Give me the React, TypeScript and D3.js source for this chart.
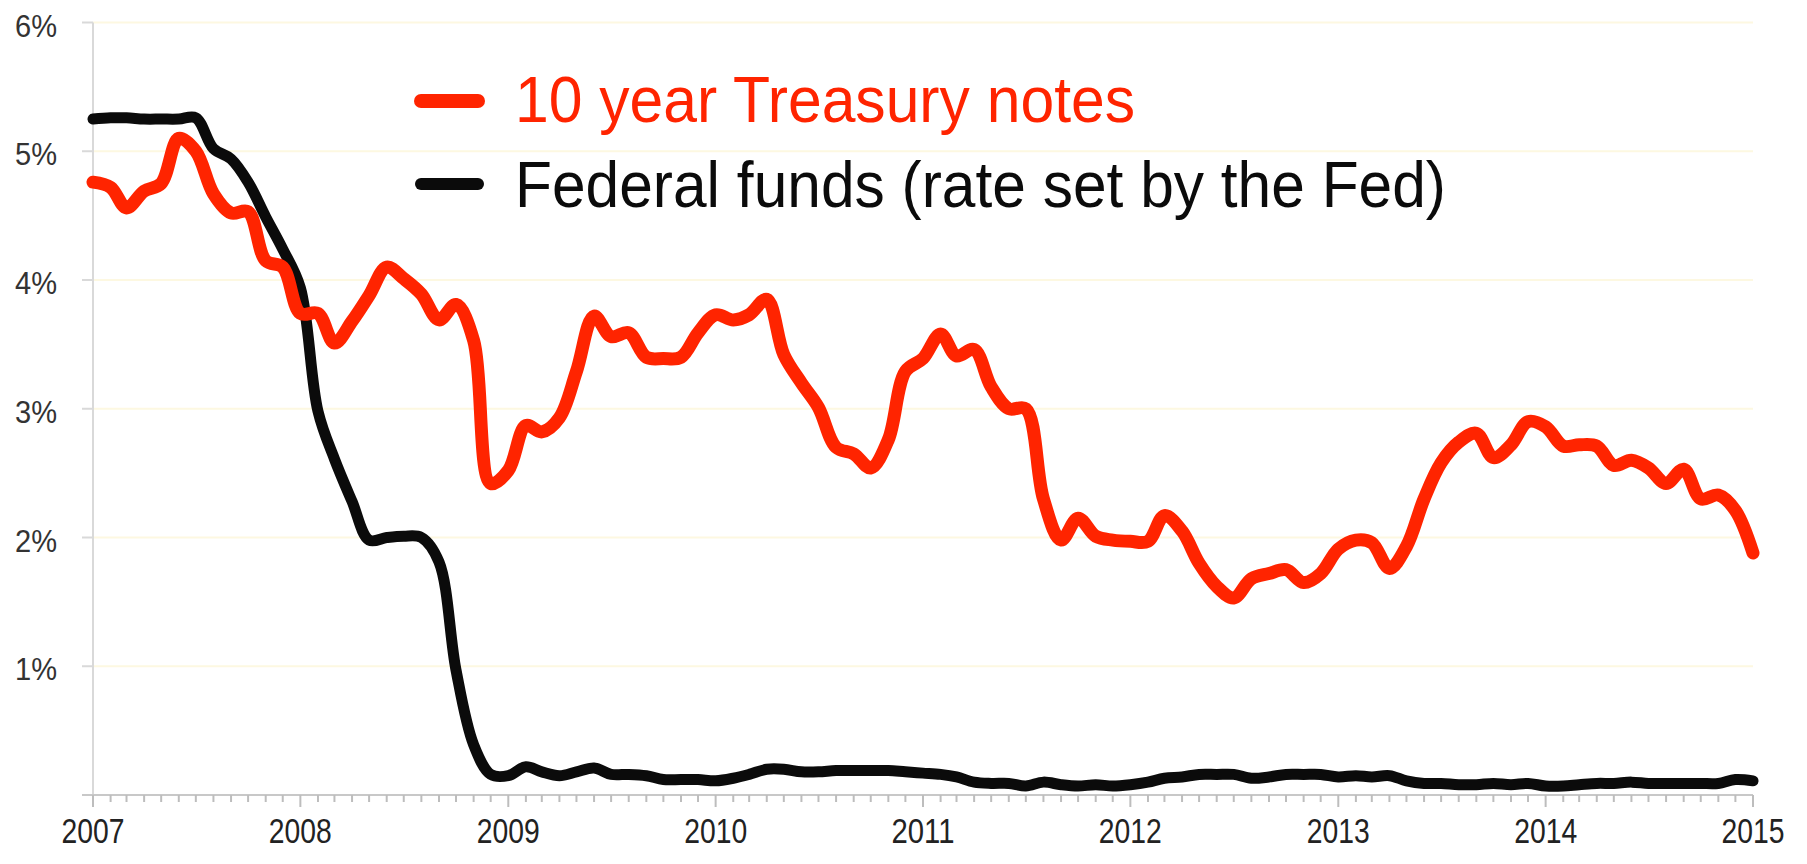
import React from "react";
import * as d3 from "d3";

// monthly averages, Jan 2007 .. Jan 2015
const treasury10y = [
  4.76, 4.72, 4.56, 4.69, 4.75, 5.1, 5.0, 4.67, 4.52, 4.53, 4.15, 4.1,
  3.74, 3.74, 3.51, 3.68, 3.88, 4.1, 4.01, 3.89, 3.69, 3.81, 3.53, 2.42,
  2.52, 2.87, 2.82, 2.93, 3.29, 3.72, 3.56, 3.59, 3.4, 3.39, 3.4, 3.59,
  3.73, 3.69, 3.73, 3.85, 3.42, 3.2, 3.01, 2.7, 2.65, 2.54, 2.76, 3.29,
  3.39, 3.58, 3.41, 3.46, 3.17, 3.0, 3.0, 2.3, 1.98, 2.15, 2.01, 1.98,
  1.97, 1.97, 2.17, 2.05, 1.8, 1.62, 1.53, 1.68, 1.72, 1.75, 1.65, 1.72,
  1.91, 1.98, 1.96, 1.76, 1.93, 2.3, 2.58, 2.74, 2.81, 2.62, 2.72, 2.9,
  2.86, 2.71, 2.72, 2.71, 2.56, 2.6, 2.54, 2.42, 2.53, 2.3, 2.33, 2.21,
  1.88,
];

const fedFunds = [
  5.25, 5.26, 5.26, 5.25, 5.25, 5.25, 5.26, 5.02, 4.94, 4.76, 4.49, 4.24,
  3.94, 2.98, 2.61, 2.28, 1.98, 2.0, 2.01, 2.0, 1.81, 0.97, 0.39, 0.16,
  0.15, 0.22, 0.18, 0.15, 0.18, 0.21, 0.16, 0.16, 0.15, 0.12, 0.12, 0.12,
  0.11, 0.13, 0.16, 0.2, 0.2, 0.18, 0.18, 0.19, 0.19, 0.19, 0.19, 0.18,
  0.17, 0.16, 0.14, 0.1, 0.09, 0.09, 0.07, 0.1, 0.08, 0.07, 0.08, 0.07,
  0.08, 0.1, 0.13, 0.14, 0.16, 0.16, 0.16, 0.13, 0.14, 0.16, 0.16, 0.16,
  0.14, 0.15, 0.14, 0.15, 0.11, 0.09, 0.09, 0.08, 0.08, 0.09, 0.08, 0.09,
  0.07, 0.07, 0.08, 0.09, 0.09, 0.1, 0.09, 0.09, 0.09, 0.09, 0.09, 0.12,
  0.11,
];

const yTickValues = [1, 2, 3, 4, 5, 6];
const yearLabels = ["2007", "2008", "2009", "2010", "2011", "2012", "2013", "2014", "2015"];
const seriesNames = ["10 year Treasury notes", "Federal funds (rate set by the Fed)"];

const WIDTH = 1807;
const HEIGHT = 864;
const RED = "#ff2400";
const BLACK = "#0b0b0b";
const FONT = "'Liberation Sans', Arial, sans-serif";

export default function App() {
  const start = new Date(2007, 0, 1);
  const end = new Date(2015, 0, 1);
  const months = d3.timeMonth.range(start, d3.timeDay.offset(end, 1));

  const x = d3.scaleTime().domain([start, end]).range([93, 1753]);
  const y = d3.scaleLinear().domain([0, 6]).range([795, 22.5]);

  const line = d3
    .line<number>()
    .x((_, i) => x(months[i]))
    .y((d) => y(d))
    .curve(d3.curveCatmullRom.alpha(0.5));

  const years = yearLabels.map((t) => new Date(+t, 0, 1));

  return (
    <svg
      width={WIDTH}
      height={HEIGHT}
      style={{ position: "absolute", left: 0, top: 0, background: "#fff" }}
      fontFamily={FONT}
    >
      {/* grid */}
      {yTickValues.map((v) => (
        <line key={"g" + v} x1={x(start)} x2={x(end)} y1={y(v)} y2={y(v)} stroke="#fdf8e1" strokeWidth={2} />
      ))}

      {/* y axis */}
      <line x1={x(start)} x2={x(start)} y1={y(6)} y2={y(0)} stroke="#d9d9d9" strokeWidth={2} />
      {[0, ...yTickValues].map((v) => (
        <line key={"yt" + v} x1={x(start) - 11} x2={x(start)} y1={y(v)} y2={y(v)} stroke="#d9d9d9" strokeWidth={2} />
      ))}
      {yTickValues.map((v) => (
        <text
          key={"yl" + v}
          x={57}
          y={y(v) + 14}
          textAnchor="end"
          fontSize={32}
          fill="#333"
          textLength={42}
          lengthAdjust="spacingAndGlyphs"
        >
          {v}%
        </text>
      ))}

      {/* x axis */}
      <line x1={x(start) - 11} x2={x(end)} y1={y(0)} y2={y(0)} stroke="#c8c8c8" strokeWidth={2} />
      {months.map((m, i) => (
        <line
          key={"xt" + i}
          x1={x(m)}
          x2={x(m)}
          y1={y(0)}
          y2={y(0) + (m.getMonth() === 0 ? 12 : 7)}
          stroke="#bdbdbd"
          strokeWidth={2}
        />
      ))}
      {years.map((d, i) => (
        <text
          key={"xl" + i}
          x={x(d)}
          y={843}
          textAnchor="middle"
          fontSize={35}
          fill="#222"
          textLength={63}
          lengthAdjust="spacingAndGlyphs"
        >
          {yearLabels[i]}
        </text>
      ))}

      {/* series */}
      <path d={line(fedFunds) ?? ""} fill="none" stroke={BLACK} strokeWidth={11} strokeLinejoin="round" strokeLinecap="round" />
      <path d={line(treasury10y) ?? ""} fill="none" stroke={RED} strokeWidth={13} strokeLinejoin="round" strokeLinecap="round" />

      {/* legend */}
      <line x1={421} x2={478} y1={101} y2={101} stroke={RED} strokeWidth={14} strokeLinecap="round" />
      <text x={515} y={122} fontSize={64} fill={RED} textLength={620} lengthAdjust="spacingAndGlyphs">
        {seriesNames[0]}
      </text>
      <line x1={421} x2={478} y1={184} y2={184} stroke={BLACK} strokeWidth={12} strokeLinecap="round" />
      <text x={515} y={207} fontSize={64} fill={BLACK} textLength={931} lengthAdjust="spacingAndGlyphs">
        {seriesNames[1]}
      </text>
    </svg>
  );
}
